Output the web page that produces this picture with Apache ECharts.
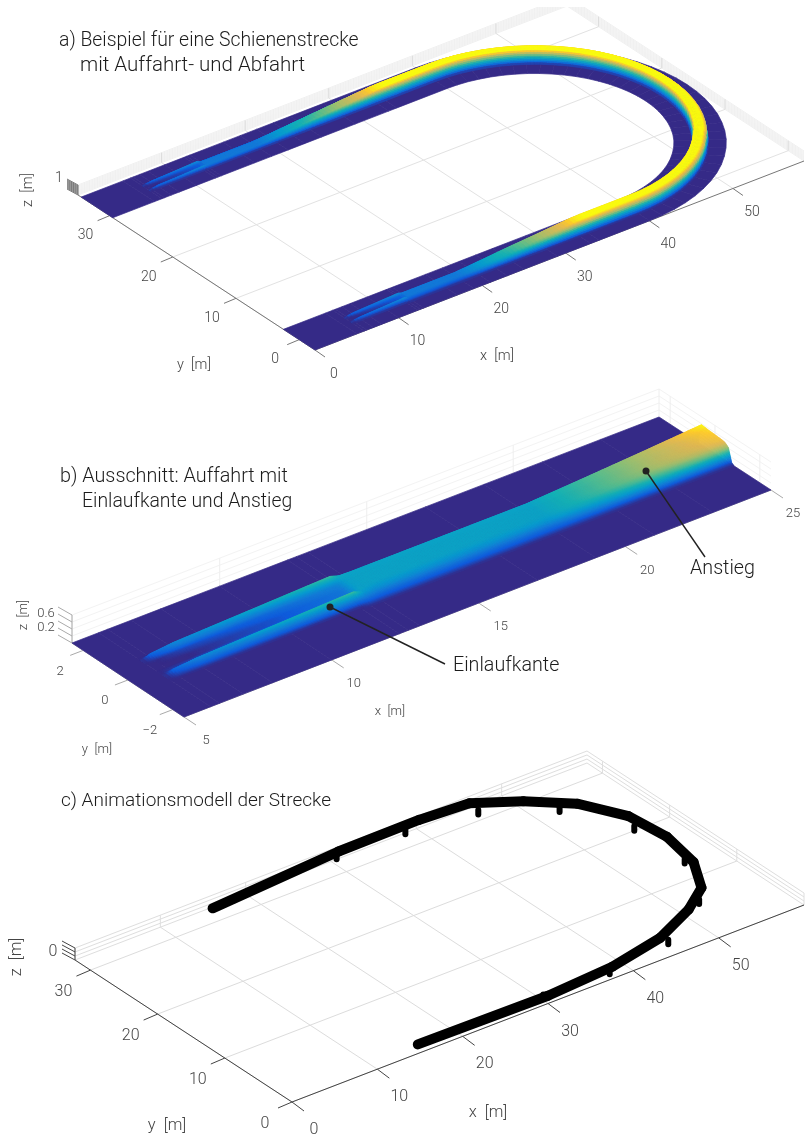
<!DOCTYPE html>
<html><head><meta charset="utf-8">
<style>html,body{margin:0;padding:0;background:#fff}#c{width:806px;height:1139px}</style>
<script src="https://cdn.jsdelivr.net/npm/echarts@6/dist/echarts.min.js"></script>
</head><body><div id="c"></div>
<script>
// ---------- values (metres) ----------
const xTicksA=[0,10,20,30,40,50], yTicksA=[0,10,20,30], zTicksA=[0,.1,.2,.3,.4,.5,.6,.7,.8,.9,1];
const xTicksB=[5,10,15,20,25], yTicksB=[-2,0,2], zTicksB=[0,.2,.4,.6,.8];
const xTicksC=[0,10,20,30,40,50], yTicksC=[0,10,20,30], zTicksC=[0,.33,.67,1];
const zLabelsA=[[1,'1']], zLabelsB=[[.6,'0.6'],[.2,'0.2']], zLabelsC=[[0,'0']];
// cross-section offsets from the centre line, and heights per station
const sectionU=[-2.5,-.85,-.75,-.6,-.45,-.3,-.1,.1,.35,.45,.6,.68,.75,2.5];
const stationX=[0,5,5.9,6.2,7,8,10,12.3,12.6,13,17,19,21,23,25,29,33,34,40];
const stationZ=[
[0,0,0,0,0,0,0,0,0,0,0,0,0,0],
[0,0,0,0,0,0,0,0,0,0,0,0,0,0],
[0,0,0,0,0,0,0,0,0,0,0,0,0,0],
[0,0,0,.05,.10,.02,0,0,0,.05,.10,.01,0,0],
[0,0,0,.10,.17,.05,0,0,.04,.13,.17,.06,0,0],
[0,0,0,.11,.20,.07,.02,.02,.06,.14,.20,.06,0,0],
[0,0,0,.12,.26,.10,.06,.06,.10,.16,.26,.06,0,0],
[0,0,0,.14,.33,.16,.13,.13,.16,.21,.33,.06,0,0],
[0,0,.05,.14,.22,.24,.23,.23,.23,.24,.25,.13,0,0],
[0,0,.05,.12,.19,.23,.24,.24,.24,.24,.24,.15,0,0],
[0,0,.05,.12,.19,.23,.24,.24,.24,.24,.24,.15,0,0],
[0,0,.05,.12,.20,.23,.24,.24,.24,.24,.24,.15,0,0],
[0,0,.05,.20,.29,.33,.34,.34,.34,.34,.34,.20,0,0],
[0,0,.05,.30,.40,.44,.45,.45,.45,.45,.45,.26,0,0],
[0,0,.05,.42,.50,.52,.53,.54,.55,.56,.57,.33,0,0],
[0,0,.06,.63,.71,.76,.76,.76,.76,.76,.76,.46,0,0],
[0,0,.08,.81,.92,.98,.98,.98,.98,.98,.98,.60,0,0],
[0,0,.08,.83,.94,1,1,1,1,1,1,.60,0,0],
[0,0,.08,.83,.94,1,1,1,1,1,1,.60,0,0]];
// curved part of the centre line
const arcX=[41.39,42.78,44.14,45.47,46.76,48,49.18,50.28,51.31,52.26,53.11,53.86,54.5,55.04,55.45,55.76,55.94,56,55.94,55.76,55.45,55.04,54.5,53.86,53.11,52.26,51.31,50.28,49.18,48,46.76,45.47,44.14,42.78,41.39];
const arcY=[.06,.24,.55,.96,1.5,2.14,2.89,3.74,4.69,5.72,6.82,8,9.24,10.53,11.86,13.22,14.6,16,17.4,18.78,20.14,21.47,22.76,24,25.18,26.28,27.31,28.26,29.11,29.86,30.5,31.04,31.45,31.76,31.94];
const returnY=32;
// animation model: coarse track polygon and posts
const modelX=[15.1,30.8,40.3,45.9,50.1,53.8,56.2,56.7,55.8,53.5,50.1,44.8,38,30,14.9];
const modelY=[31,32.2,32.3,31.9,29.2,25.9,21.3,16.2,11.1,7,4.6,2.1,.6,0,.2];
const postX=[30.5,38.4,46,52.3,55.7,55.7,52.2,45.4,37.7,30];
const postY=[32.1,31.9,30.7,26.6,19.8,12.3,5.7,1.66,.6,.7];
const modelZ=.65, postBase=.12, postHead=.5;
const parulaT=[0,.125,.25,.375,.5,.625,.75,.875,.94,1];
const parulaC=[[53,42,135],[15,92,221],[18,125,216],[7,156,207],[21,177,180],[89,189,140],[165,190,107],[225,185,82],[252,200,45],[250,250,15]];

// ---------- camera views: floor corners on the page ----------
const FONT='Roboto';
const views={
 a:{x:[0,58.5],y:[-2.5,35],c:[[315,350],[804,161],[567,6],[78,195]],zs:10,lift:1.3,zTop:1,clim:1,wall:'#f0f0f0',wallV:'#dcdcdc',grid:'#e2e2e2',axis:'#777',
    tickX:[10,7],tickY:[-12,5],tickZ:[-11,-6],lx:[19,24],ly:[-24,20],lz:[-19,-7],fs:14,fc:'#444'},
 b:{x:[5,25],y:[-2.5,2.5],c:[[184,717],[771,490],[659,417],[72,643]],zs:35,lift:1,zTop:.8,clim:.57,wall:'#f3f3f3',wallV:'#eeeeee',grid:'#e2e2e2',axis:'#aaa',
    tickX:[12,8],tickY:[-13,5],tickZ:[-14,-8],lx:[22,24],ly:[-23,21],lz:[-26,-8],fs:13,fc:'#444'},
 c:{x:[0,60],y:[0,32.3],c:[[292,1102],[804,905],[587,763],[75,960]],zs:12,lift:1,zTop:1,clim:1,wall:'#dedede',wallV:'#dedede',grid:'#dcdcdc',axis:'#444',
    tickX:[12,9],tickY:[-14,6],tickZ:[-13,-7],lx:[22,28],ly:[-27,22],lz:[-22,-8],fs:16,fc:'#444'}
};
for(const k in views){const v=views[k];const [p0,p1,p2,p3]=v.c;
 const dx1=p1[0]-p2[0],dx2=p3[0]-p2[0],sx=p0[0]-p1[0]+p2[0]-p3[0],dy1=p1[1]-p2[1],dy2=p3[1]-p2[1],sy=p0[1]-p1[1]+p2[1]-p3[1];
 const D=dx1*dy2-dx2*dy1,g=(sx*dy2-dx2*sy)/D,h=(dx1*sy-sx*dy1)/D;
 v.m=[p1[0]-p0[0]+g*p1[0],p3[0]-p0[0]+h*p3[0],p0[0],p1[1]-p0[1]+g*p1[1],p3[1]-p0[1]+h*p3[1],p0[1],g,h];
}
function project(v,x,y,z){const u=(x-v.x[0])/(v.x[1]-v.x[0]),w=(y-v.y[0])/(v.y[1]-v.y[0]),m=v.m,d=m[6]*u+m[7]*w+1;
 return [(m[0]*u+m[1]*w+m[2])/d,(m[3]*u+m[4]*w+m[5])/d-(z||0)*v.zs];}
function parula(t){t=Math.max(0,Math.min(1,t));let i=0;while(i<parulaT.length-2&&t>parulaT[i+1])i++;
 const f=(t-parulaT[i])/(parulaT[i+1]-parulaT[i]),a=parulaC[i],b=parulaC[i+1];
 return 'rgb('+[0,1,2].map(k=>Math.round(a[k]+(b[k]-a[k])*f)).join(',')+')';}

// ---------- series helpers, all through hidden page-sized axes ----------
function segSeries(v,rows,stroke,lw,cap){return {type:'custom',coordinateSystem:'cartesian2d',silent:true,clip:false,animation:false,progressive:0,data:rows,z:2,
 renderItem(p,api){const a=api.coord(project(v,api.value(0),api.value(1),api.value(2)));
  const ox=api.value(6)||0,oy=api.value(7)||0;
  const b=api.coord(project(v,api.value(3),api.value(4),api.value(5)));
  return {type:'line',shape:{x1:a[0],y1:a[1],x2:b[0]+ox,y2:b[1]+oy},style:{stroke,lineWidth:lw,lineCap:cap||'butt'},silent:true};}};}
function textSeries(v,rows,texts){return {type:'custom',coordinateSystem:'cartesian2d',silent:true,clip:false,animation:false,progressive:0,data:rows,z:5,
 renderItem(p,api){const a=api.coord(project(v,api.value(0),api.value(1),api.value(2)));
  return {type:'text',x:a[0]+api.value(3),y:a[1]+api.value(4),style:{text:texts[p.dataIndex],fill:v.fc,font:'300 '+v.fs+'px '+FONT,align:'center',verticalAlign:'middle'},silent:true};}};}
function quadSeries(v,rows,z){return {type:'custom',coordinateSystem:'cartesian2d',silent:true,clip:false,animation:false,progressive:0,data:rows,z,
 renderItem(p,api){const pts=[];for(let i=0;i<4;i++){const q=api.coord(project(v,api.value(i*3),api.value(i*3+1),api.value(i*3+2)*v.lift));pts.push(q);}
  const col=parula(api.value(12)/v.clim);
  return {type:'polygon',shape:{points:pts},style:{fill:col,stroke:col,lineWidth:.7},silent:true};}};}

function frame(v,xT,yT,zT,zL){const [x0,x1]=v.x,[y0,y1]=v.y,t=v.zTop;
 const wall=[],wallV=[],grid=[],axis=[],ticks=[],lab=[],txt=[];
 zT.forEach(z=>{wall.push([x0,y1,z,x1,y1,z]);wall.push([x1,y1,z,x1,y0,z]);
   ticks.push([x0,y1,z,x0,y1,z,v.tickZ[0],v.tickZ[1]]);});
 xT.forEach(x=>{wallV.push([x,y1,0,x,y1,t]);grid.push([x,y0,0,x,y1,0]);ticks.push([x,y0,0,x,y0,0,v.tickX[0],v.tickX[1]]);
   lab.push([x,y0,0,v.lx[0],v.lx[1]]);txt.push(String(x));});
 yT.forEach(y=>{wallV.push([x1,y,0,x1,y,t]);grid.push([x0,y,0,x1,y,0]);ticks.push([x0,y,0,x0,y,0,v.tickY[0],v.tickY[1]]);
   lab.push([x0,y,0,v.ly[0],v.ly[1]]);txt.push(String(y).replace('-','\u2212'));});
 zL.forEach(e=>{lab.push([x0,y1,e[0],v.lz[0],v.lz[1]]);txt.push(e[1]);});
 axis.push([x0,y0,0,x1,y0,0],[x0,y0,0,x0,y1,0],[x0,y1,0,x0,y1,t]);
 return [segSeries(v,wall,v.wall,1),segSeries(v,wallV,v.wallV,1),segSeries(v,grid,v.grid,1),segSeries(v,axis,v.axis,1),segSeries(v,ticks,v.axis,1),textSeries(v,lab,txt)];}

function mesh(v,stations,stepA,stepB){const base=[],cells=[];
 const P=(s,j)=>[s.cx+sectionU[j]*s.nx,s.cy+sectionU[j]*s.ny,s.z[j]];
 const last=sectionU.length-1;
 for(let i=0;i<stations.length-1;i++){
  const s=stations[i],e=stations[i+1];
  const G=(t,j)=>{const q=P(t,j);q[2]=0;return q;};
  base.push([...G(s,0),...G(s,last),...G(e,last),...G(e,0),0]);
  for(let j=0;j<last;j++){
  const A=P(s,j),B=P(s,j+1),C=P(e,j+1),Dd=P(e,j);
  const zs=[A[2],B[2],C[2],Dd[2]];
  if(zs.every(z=>z===0))continue;
  const sa=project(v,A[0],A[1],0),sd=project(v,Dd[0],Dd[1],0),sb=project(v,B[0],B[1],0);
  const na=Math.max(1,Math.ceil(Math.hypot(sd[0]-sa[0],sd[1]-sa[1])/stepA));
  const up=Math.max(...zs)*v.zs-Math.min(...zs)*v.zs;
  const nb=Math.max(1,Math.ceil((Math.hypot(sb[0]-sa[0],sb[1]-sa[1])+up)/stepB));
  const L=(u,w)=>[0,1,2].map(k=>(A[k]*(1-u)+Dd[k]*u)*(1-w)+(B[k]*(1-u)+C[k]*u)*w);
  for(let a=0;a<na;a++)for(let b=0;b<nb;b++){
   const q=[L(a/na,b/nb),L(a/na,(b+1)/nb),L((a+1)/na,(b+1)/nb),L((a+1)/na,b/nb)];
   const zm=(q[0][2]+q[1][2]+q[2][2]+q[3][2])/4,cx=(q[0][0]+q[2][0])/2,cy=(q[0][1]+q[2][1])/2;
   cells.push({k:project(v,cx,cy,0)[1],r:[...q[0],...q[1],...q[2],...q[3],zm]});}
  }
 }
 cells.sort((p,q)=>p.k-q.k);
 return [quadSeries(v,base,3),quadSeries(v,cells.map(c=>c.r),4)];}

// ---------- stations ----------
const stA=[];
stationX.forEach((x,i)=>stA.push({cx:x,cy:0,nx:0,ny:1,z:stationZ[i]}));
const plateauRow=stationZ[stationZ.length-1];
arcX.forEach((x,i)=>{const px=i?arcX[i-1]:40,py=i?arcY[i-1]:0,qx=i<arcX.length-1?arcX[i+1]:40,qy=i<arcX.length-1?arcY[i+1]:returnY;
 const tx=qx-px,ty=qy-py,l=Math.hypot(tx,ty);stA.push({cx:x,cy:arcY[i],nx:-ty/l,ny:tx/l,z:plateauRow});});
for(let i=stationX.length-1;i>=0;i--)stA.push({cx:stationX[i],cy:returnY,nx:0,ny:-1,z:stationZ[i]});
const stB=[];stationX.forEach((x,i)=>{if(x>=5&&x<=25)stB.push({cx:x,cy:0,nx:0,ny:1,z:stationZ[i]});});

// ---------- animation model ----------
const modelSegs=[];for(let i=0;i<modelX.length-1;i++)modelSegs.push([modelX[i],modelY[i],modelZ,modelX[i+1],modelY[i+1],modelZ]);
const postSegs=postX.map((x,i)=>[x,postY[i],postBase,x,postY[i],postHead]);

const series=[
 ...frame(views.a,xTicksA,yTicksA,zTicksA,zLabelsA),...mesh(views.a,stA,4,1.5),
 ...frame(views.b,xTicksB,yTicksB,zTicksB,zLabelsB),...mesh(views.b,stB,3,1.5),
 ...frame(views.c,xTicksC,yTicksC,zTicksC,zLabelsC),
 segSeries(views.c,postSegs,'#000',6,'round'),segSeries(views.c,modelSegs,'#000',10,'round')
];

function T(text,x,y,size){return {type:'text',x,y,silent:true,z:50,style:{text,fill:'#1c1c1c',font:'300 '+size+'px '+FONT,verticalAlign:'middle'}};}
function AX(text,x,y,size,rot){return {type:'text',x,y,rotation:rot||0,silent:true,z:50,style:{text,fill:'#444',font:'300 '+size+'px '+FONT,align:'center',verticalAlign:'middle'}};}
function LN(x1,y1,x2,y2){return {type:'line',silent:true,z:40,shape:{x1,y1,x2,y2},style:{stroke:'#222',lineWidth:1.4}};}
function DOT(cx,cy){return {type:'circle',silent:true,z:41,shape:{cx,cy,r:3.5},style:{fill:'#222'}};}
const graphics=[
 {type:'rect',silent:true,z:30,shape:{x:0,y:0,width:806,height:7},style:{fill:'#fff'}},
 T('a) Beispiel für eine Schienenstrecke',59,41,19.4),T('mit Auffahrt- und Abfahrt',80,66,20.5),
 T('b) Ausschnitt: Auffahrt mit',60,477.5,19.8),T('Einlaufkante und Anstieg',82,502.5,19.4),
 T('c) Animationsmodell der Strecke',61,801.5,19),
 T('Einlaufkante',453,666.5,19.7),T('Anstieg',690,569.5,19.7),
 LN(330,607,445,664),DOT(330,607),LN(646,471,705,557),DOT(646,471),
 AX('x  [m]',497,356,14.5),AX('y  [m]',194,365,14.5),AX('z  [m]',28,190,14.5,Math.PI/2),
 AX('x  [m]',390,712,13),AX('y  [m]',97,750,13),AX('z  [m]',24,615,13,Math.PI/2),
 AX('x  [m]',488,1113,16.5),AX('y  [m]',167,1126,16.5),AX('z  [m]',17,957,16.5,Math.PI/2)
];
const chart=echarts.init(document.getElementById('c'),null,{renderer:'canvas'});
chart.setOption({animation:false,backgroundColor:'#fff',
 grid:{left:0,right:0,top:0,bottom:0},
 xAxis:{type:'value',min:0,max:806,show:false},
 yAxis:{type:'value',min:0,max:1139,inverse:true,show:false},
 series,graphic:{elements:graphics}});
</script></body></html>
